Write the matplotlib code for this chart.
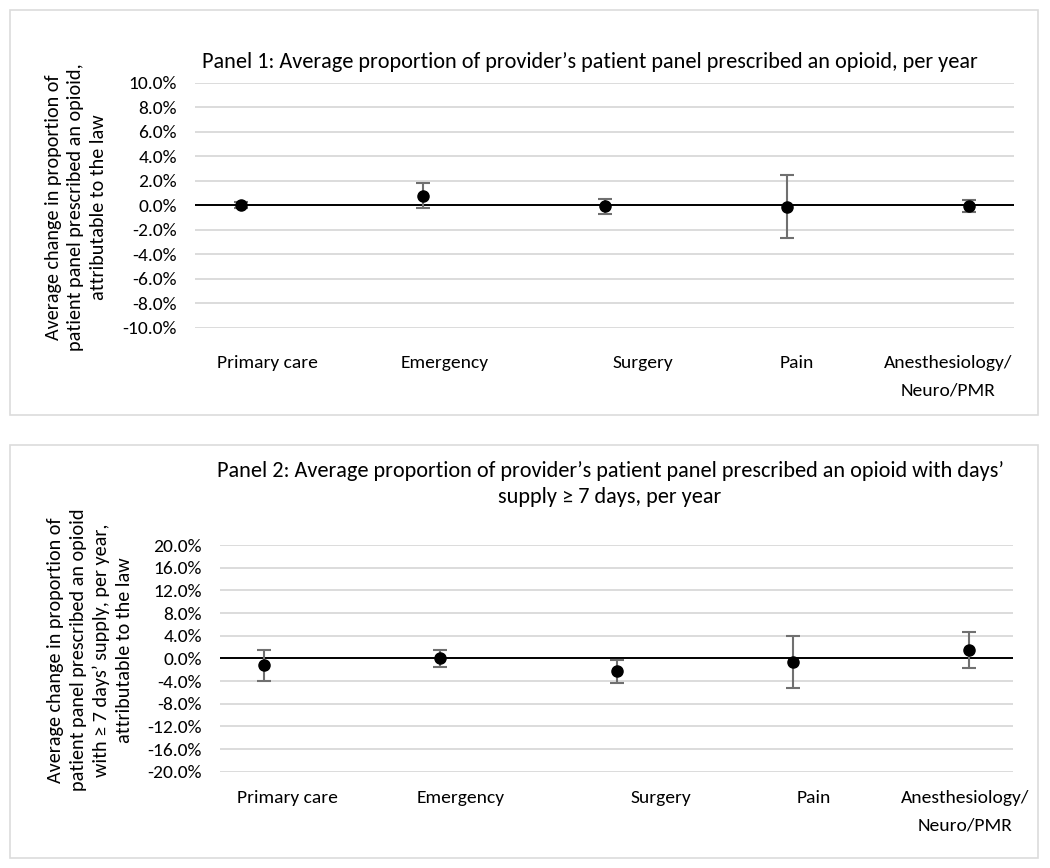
import matplotlib
matplotlib.use('Agg')
import matplotlib.pyplot as plt
from matplotlib import font_manager
from matplotlib.patches import Rectangle
from matplotlib.ticker import FuncFormatter

# pick a Calibri-like face if one is around
installed = set(f.name for f in font_manager.fontManager.ttflist)
face = 'Lato'
for name in ['Carlito', 'Lato', 'Open Sans']:
    if name in installed:
        face = name
        break
plt.rcParams['font.family'] = [face, 'DejaVu Sans']

specialties = ['Primary care', 'Emergency', 'Surgery', 'Pain', 'Anesthesiology/\nNeuro/PMR']

# panel 1: change in share of patient panel prescribed an opioid (%)
p1_est = [0.0, 0.79, -0.08, -0.1, -0.05]
p1_low = [-0.25, -0.24, -0.68, -2.68, -0.51]
p1_high = [0.25, 1.80, 0.52, 2.45, 0.42]

# panel 2: same, days' supply >= 7 days (%)
p2_est = [-1.15, 0.0, -2.3, -0.65, 1.45]
p2_low = [-3.95, -1.6, -4.4, -5.2, -1.75]
p2_high = [1.5, 1.45, -0.3, 3.9, 4.6]

p1_ticks = [-10, -8, -6, -4, -2, 0, 2, 4, 6, 8, 10]
p2_ticks = [-20, -16, -12, -8, -4, 0, 4, 8, 12, 16, 20]

p1_title = 'Panel 1: Average proportion of provider\u2019s patient panel prescribed an opioid, per year'
p2_title = ('Panel 2: Average proportion of provider\u2019s patient panel prescribed an opioid with days\u2019\n'
            'supply \u2265 7 days, per year')
p1_ylabel = 'Average change in proportion of\npatient panel prescribed an opioid,\nattributable to the law'
p2_ylabel = ('Average change in proportion of\npatient panel prescribed an opioid\n'
             'with \u2265 7 days\u2019 supply, per year,\nattributable to the law')

W, H = 1050, 868
fig = plt.figure(figsize=(W / 100, H / 100), dpi=100)
fs = 14
title_fs = 16
ylab_fs = 14.5


def fx(px):
    return px / W


def fy(py):
    return 1 - py / H


# panel frames
for top, bottom in [(10, 415), (445, 858)]:
    fig.patches.append(Rectangle((fx(10), fy(bottom)), fx(1038) - fx(10), fy(top) - fy(bottom),
                                 transform=fig.transFigure, fill=False,
                                 edgecolor='#dcdcdc', linewidth=1.2))


def draw_panel(rect, est, low, high, ticks, label_px, label_y):
    ax = fig.add_axes(rect)
    xs = list(range(1, len(est) + 1))
    lower = [e - l for e, l in zip(est, low)]
    upper = [h - e for e, h in zip(est, high)]
    ax.errorbar(xs, est, yerr=[lower, upper], fmt='o', color='black', markersize=8,
                ecolor='#707070', elinewidth=1.5, capsize=5, capthick=1.5, zorder=3)
    ax.axhline(0, color='black', linewidth=1.4, zorder=2)
    ax.set_xlim(0.75, 5.25)
    ax.set_ylim(ticks[0], ticks[-1])
    ax.set_yticks(ticks)
    ax.yaxis.set_major_formatter(FuncFormatter(lambda v, p: '%.1f%%' % v))
    ax.grid(axis='y', color='#d9d9d9', linewidth=1.3, zorder=0)
    ax.set_axisbelow(True)
    ax.set_xticks([])
    ax.tick_params(axis='y', length=0, pad=13, labelsize=fs)
    for s in ax.spines.values():
        s.set_visible(False)
    # category names sit under the plot, like text boxes in the original
    for name, px in zip(specialties, label_px):
        fig.text(fx(px), fy(label_y), name, ha='center', va='top', fontsize=fs,
                 linespacing=1.9)
    return ax


ax1 = draw_panel([fx(195), fy(328), fx(1014) - fx(195), fy(82.7) - fy(328)],
                 p1_est, p1_low, p1_high, p1_ticks, [267, 445, 643, 797, 948], 355)
ax2 = draw_panel([fx(220), fy(771.7), fx(1013) - fx(220), fy(545) - fy(771.7)],
                 p2_est, p2_low, p2_high, p2_ticks, [287, 461, 661, 814, 965], 790)

fig.text(fx(590), fy(62), p1_title, ha='center', va='center', fontsize=title_fs)
fig.text(fx(610), fy(484), p2_title, ha='center', va='center', fontsize=title_fs,
         linespacing=1.4)

fig.text(fx(76), fy(207), p1_ylabel, rotation=90, ha='center', va='center',
         fontsize=ylab_fs, linespacing=1.4, multialignment='center')
fig.text(fx(90), fy(650), p2_ylabel, rotation=90, ha='center', va='center',
         fontsize=ylab_fs, linespacing=1.4, multialignment='center')

fig.savefig('out.png', dpi=100, facecolor='white')
plt.close(fig)
